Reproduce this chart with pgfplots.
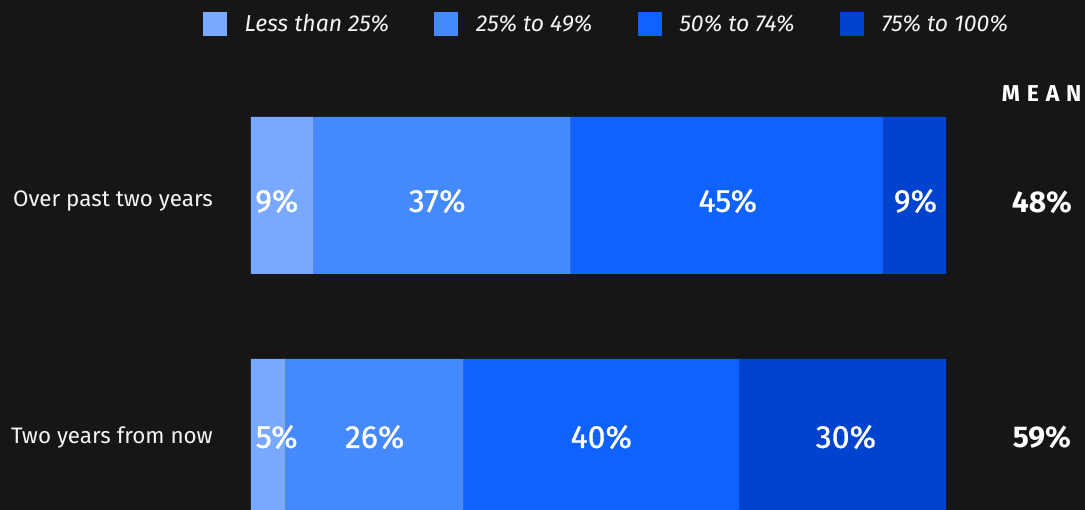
\documentclass[border=0pt]{standalone}
\usepackage{fontspec}
\setmainfont{Fira Sans}
\usepackage{pgfplots}
\pgfplotsset{compat=1.18}
\definecolor{bg}{HTML}{161616}
\definecolor{cA}{HTML}{78A9FF}
\definecolor{cB}{HTML}{4589FF}
\definecolor{cC}{HTML}{0F62FE}
\definecolor{cD}{HTML}{0043CE}
\definecolor{txt}{HTML}{F4F4F4}
\pgfplotstableread{
y a b c d
195.5 9 37 45 9
437.5 5 25.6 39.6 29.8
}\bars
\pgfplotsset{
  base/.style={
    at={(251pt,0pt)}, anchor=south west,
    scale only axis, width=695pt, height=510pt,
    xmin=0, xmax=100, ymin=0, ymax=510, y dir=reverse,
  }
}
\begin{document}
\begin{tikzpicture}[x=1pt,y=1pt]
\fill[bg] (0,0) rectangle (1085,510);
\useasboundingbox (0,0) rectangle (1085,510);
\clip (0,0) rectangle (1085,510);
\begin{axis}[base,
  xbar stacked, bar width=157pt,
  axis line style={draw=none}, tick style={draw=none},
  xtick=\empty, ytick={201,437},
  yticklabels={Over past two years, Two years from now},
  yticklabel style={anchor=east, inner sep=0pt, xshift=-38pt, text=txt, font=\fontsize{22.4}{26}\selectfont},
  legend image code/.code={\fill[#1] (0pt,-12pt) rectangle (24pt,12pt);},
  legend columns=4,
  legend style={at={(0.51,0.953)}, anchor=center, draw=none, fill=none,
    text=txt, font=\fontsize{23}{26}\selectfont\itshape,
    nodes={inner sep=0pt},
    /tikz/every even column/.append style={column sep=45pt},
    /tikz/every odd column/.append style={column sep=18pt}},
]
\addplot[fill=cA, draw=none] table[x=a, y=y] {\bars};
\addplot[fill=cB, draw=none] table[x=b, y=y] {\bars};
\addplot[fill=cC, draw=none] table[x=c, y=y] {\bars};
\addplot[fill=cD, draw=none] table[x=d, y=y] {\bars};
\legend{Less than 25\%, 25\% to 49\%, 50\% to 74\%, 75\% to 100\%}
\end{axis}
\begin{axis}[base, hide axis, clip=false]
\addplot[draw=none, mark=none, nodes near coords, point meta=explicit symbolic,
  every node near coord/.append style={anchor=center, text=white, font=\fontsize{32}{36}\selectfont\addfontfeature{FakeBold=0.9}}]
  coordinates {(3.7,201) [9\%] (26.8,201) [37\%] (68.6,201) [45\%] (95.6,201) [9\%]
               (3.7,437) [5\%] (17.8,437) [26\%] (50.4,437) [40\%] (85.6,437) [30\%]};
\addplot[draw=none, mark=none, nodes near coords, point meta=explicit symbolic,
  every node near coord/.append style={anchor=center, text=white, font=\fontsize{30}{34}\selectfont\bfseries}]
  coordinates {(113.8,202) [48\%] (113.8,437) [59\%]};
\addplot[draw=none, mark=none, nodes near coords, point meta=explicit symbolic,
  every node near coord/.append style={anchor=west, inner sep=0pt, text=white, font=\fontsize{23}{26}\selectfont\bfseries\addfontfeature{LetterSpace=30}}]
  coordinates {(108.0,94) [MEAN]};
\end{axis}
\end{tikzpicture}
\end{document}
